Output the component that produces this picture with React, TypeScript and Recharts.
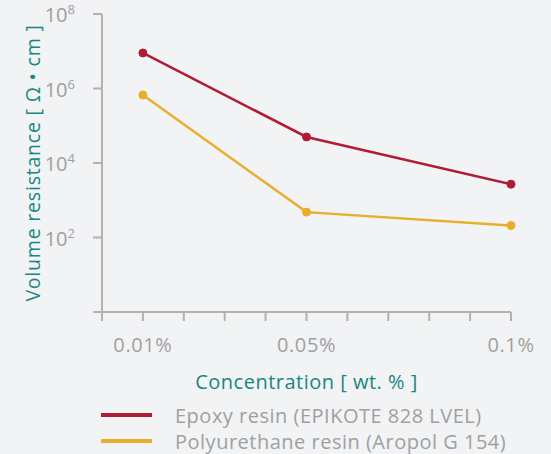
import { Line, LineChart, XAxis, YAxis } from 'recharts';

const BG = '#f2f3f5';
const AXIS = '#b2b2b2';
const TEXT = '#a0a0a0';
const TEAL = '#17887f';
const FONT = '"Open Sans", sans-serif';

const concentrations = [0.01, 0.05, 0.1];
const epoxy = [9e6, 5e4, 2.7e3];
const polyurethane = [6.7e5, 480, 210];

const xTicks = [0, 0.01, 0.02, 0.03, 0.04, 0.05, 0.06, 0.07, 0.08, 0.09, 0.1];
const xLabels: Record<string, string> = { '0.01': '0.01%', '0.05': '0.05%', '0.1': '0.1%' };
const yTicks = [1, 1e2, 1e4, 1e6, 1e8];

const series = [
  { key: 'epoxy', name: 'Epoxy resin (EPIKOTE 828 LVEL)', color: '#b01c36' },
  { key: 'pu', name: 'Polyurethane resin (Aropol G 154)', color: '#e7af2b' },
];

const data = concentrations.map((c, i) => ({ c, epoxy: epoxy[i], pu: polyurethane[i] }));

function YTick({ x, y, payload }: any) {
  if (payload.value <= 1) return null;
  const exp = Math.round(Math.log10(payload.value));
  return (
    <text x={x - 16} y={y + 8} textAnchor="end" fill={TEXT} fontFamily={FONT} fontSize={20}>
      <tspan>10</tspan>
      <tspan dy={-8} fontSize={13}>{exp}</tspan>
    </text>
  );
}

export default function App() {
  return (
    <div style={{ position: 'absolute', left: 0, top: 0, width: 551, height: 454, background: BG }}>
      <LineChart width={551} height={454} data={data} margin={{ top: 14, right: 40, bottom: 92, left: 42 }}>
        <XAxis
          dataKey="c"
          type="number"
          domain={[0, 0.1]}
          ticks={xTicks}
          interval={0}
          tickFormatter={(v: number) => xLabels[String(v)] ?? ''}
          tick={{ fill: TEXT, fontSize: 20, fontFamily: FONT, letterSpacing: 0.6 }}
          tickSize={9}
          tickMargin={17}
          height={50}
          axisLine={{ stroke: AXIS, strokeWidth: 2 }}
          tickLine={{ stroke: AXIS, strokeWidth: 2 }}
          label={{
            value: 'Concentration [ wt. % ]',
            position: 'insideBottom',
            offset: -27,
            fill: TEAL,
            fontSize: 20,
            fontFamily: FONT,
            letterSpacing: 0.5,
          }}
        />
        <YAxis
          scale="log"
          domain={[1, 1e8]}
          ticks={yTicks}
          interval={0}
          allowDataOverflow
          width={60}
          tick={<YTick />}
          tickSize={9}
          axisLine={{ stroke: AXIS, strokeWidth: 2 }}
          tickLine={{ stroke: AXIS, strokeWidth: 2 }}
          label={{
            value: 'Volume resistance [ Ω • cm ]',
            angle: -90,
            position: 'insideLeft',
            offset: 0,
            dx: -9,
            fill: TEAL,
            fontSize: 19.5,
            fontFamily: FONT,
            letterSpacing: 0.8,
            style: { textAnchor: 'middle' },
          }}
        />
        {series.map((s) => (
          <Line
            key={s.key}
            dataKey={s.key}
            name={s.name}
            stroke={s.color}
            strokeWidth={2.5}
            dot={{ r: 4, fill: s.color, stroke: s.color, strokeWidth: 1 }}
            isAnimationActive={false}
          />
        ))}
      </LineChart>
      <div style={{ position: 'absolute', left: 101, top: 402, fontFamily: FONT }}>
        {series.map((s) => (
          <div key={s.key} style={{ display: 'flex', alignItems: 'center', height: 26 }}>
            <div style={{ width: 51, height: 4, background: s.color, marginRight: 23 }} />
            <span style={{ color: TEXT, fontSize: 20, letterSpacing: 0.5, whiteSpace: 'nowrap' }}>{s.name}</span>
          </div>
        ))}
      </div>
    </div>
  );
}
